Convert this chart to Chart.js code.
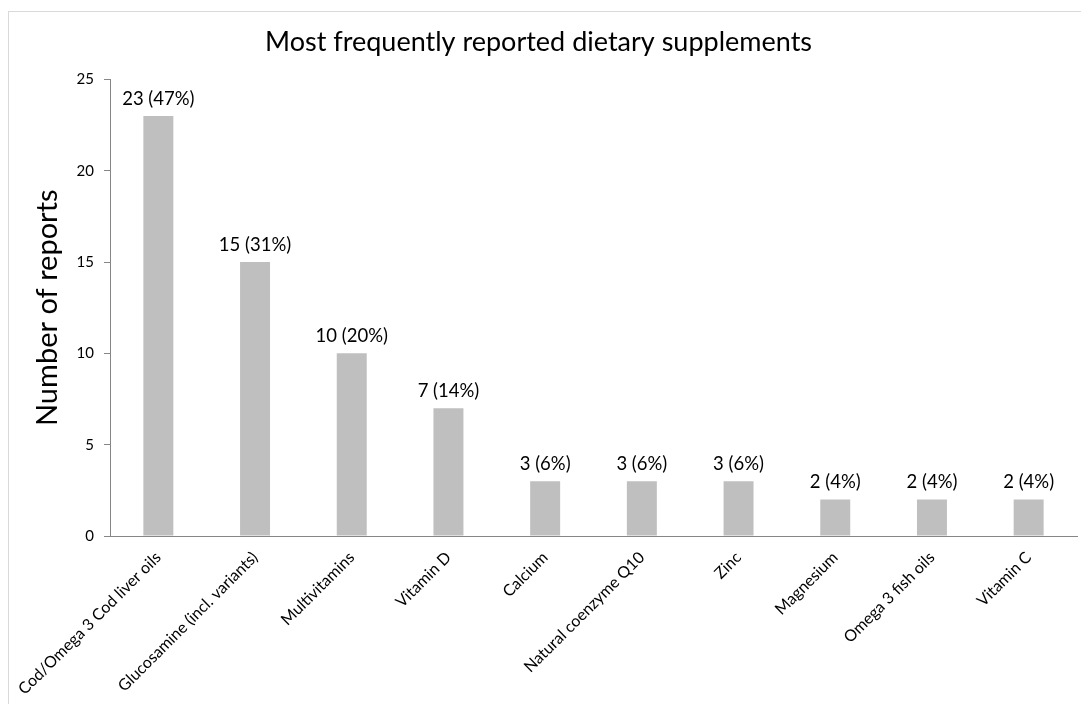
<!DOCTYPE html>
<html>
<head>
<meta charset="utf-8">
<script src="https://cdn.jsdelivr.net/npm/chart.js@4"></script>
<style>
  html, body { margin: 0; padding: 0; background: #fff; }
  #wrap { position: relative; width: 1081px; height: 704px; overflow: hidden; }
  #frame { position: absolute; left: 8px; top: 11px; width: 1090px; height: 720px; border: 1px solid #D9D9D9; box-sizing: border-box; }
  canvas { position: absolute; left: 0; top: 0; }
</style>
</head>
<body>
<div id="wrap">
  <div id="frame"></div>
  <canvas id="c" width="1081" height="704"></canvas>
</div>
<script>
const categories = [
  "Cod/Omega 3 Cod liver oils",
  "Glucosamine (incl. variants)",
  "Multivitamins",
  "Vitamin D",
  "Calcium",
  "Natural coenzyme Q10",
  "Zinc",
  "Magnesium",
  "Omega 3 fish oils",
  "Vitamin C"
];
const reports = [23, 15, 10, 7, 3, 3, 3, 2, 2, 2];
const percentLabels = ["47%", "31%", "20%", "14%", "6%", "6%", "6%", "4%", "4%", "4%"];
const yTicks = [0, 5, 10, 15, 20, 25];

const FONT = "Lato, 'Open Sans', 'DejaVu Sans', sans-serif";

const barLabels = {
  id: 'barLabels',
  afterDatasetsDraw(chart) {
    const ctx = chart.ctx;
    const meta = chart.getDatasetMeta(0);
    ctx.save();
    ctx.font = "18.5px " + FONT;
    ctx.fillStyle = "#000";
    ctx.textAlign = "center";
    ctx.textBaseline = "alphabetic";
    meta.data.forEach((bar, i) => {
      ctx.fillText(reports[i] + " (" + percentLabels[i] + ")", bar.x, bar.y - 11);
    });
    ctx.restore();
  }
};

new Chart(document.getElementById('c'), {
  type: 'bar',
  data: {
    labels: categories,
    datasets: [{
      data: reports,
      backgroundColor: '#BFBFBF',
      borderWidth: 0,
      barPercentage: 0.31,
      categoryPercentage: 1.0
    }]
  },
  options: {
    responsive: false,
    animation: false,
    devicePixelRatio: 1,
    layout: { padding: { left: 0, right: 4, top: 0, bottom: 0 } },
    plugins: {
      legend: { display: false },
      tooltip: { enabled: false },
      title: {
        display: true,
        text: "Most frequently reported dietary supplements",
        color: "#000",
        font: { family: FONT, size: 27, weight: 'normal' },
        padding: { top: 26, bottom: 21 }
      }
    },
    scales: {
      x: {
        grid: { display: false },
        border: { display: true, color: '#868686', width: 1 },
        ticks: {
          color: '#000',
          font: { family: FONT, size: 16 },
          maxRotation: 45,
          minRotation: 45,
          autoSkip: false,
          padding: 4
        },
        afterFit(scale) { scale.height = 168; }
      },
      y: {
        min: 0,
        max: 25,
        afterBuildTicks(scale) { scale.ticks = yTicks.map(v => ({ value: v })); },
        grid: {
          display: true,
          drawOnChartArea: false,
          drawTicks: true,
          tickLength: 6,
          color: '#868686'
        },
        border: { display: true, color: '#868686', width: 1 },
        ticks: {
          color: '#000',
          font: { family: FONT, size: 15 },
          padding: 10
        },
        title: {
          display: true,
          text: "Number of reports",
          color: '#000',
          font: { family: FONT, size: 29 },
          padding: { top: 30, bottom: 0 }
        },
        afterFit(scale) { scale.width = 110; }
      }
    }
  },
  plugins: [barLabels]
});
</script>
</body>
</html>
